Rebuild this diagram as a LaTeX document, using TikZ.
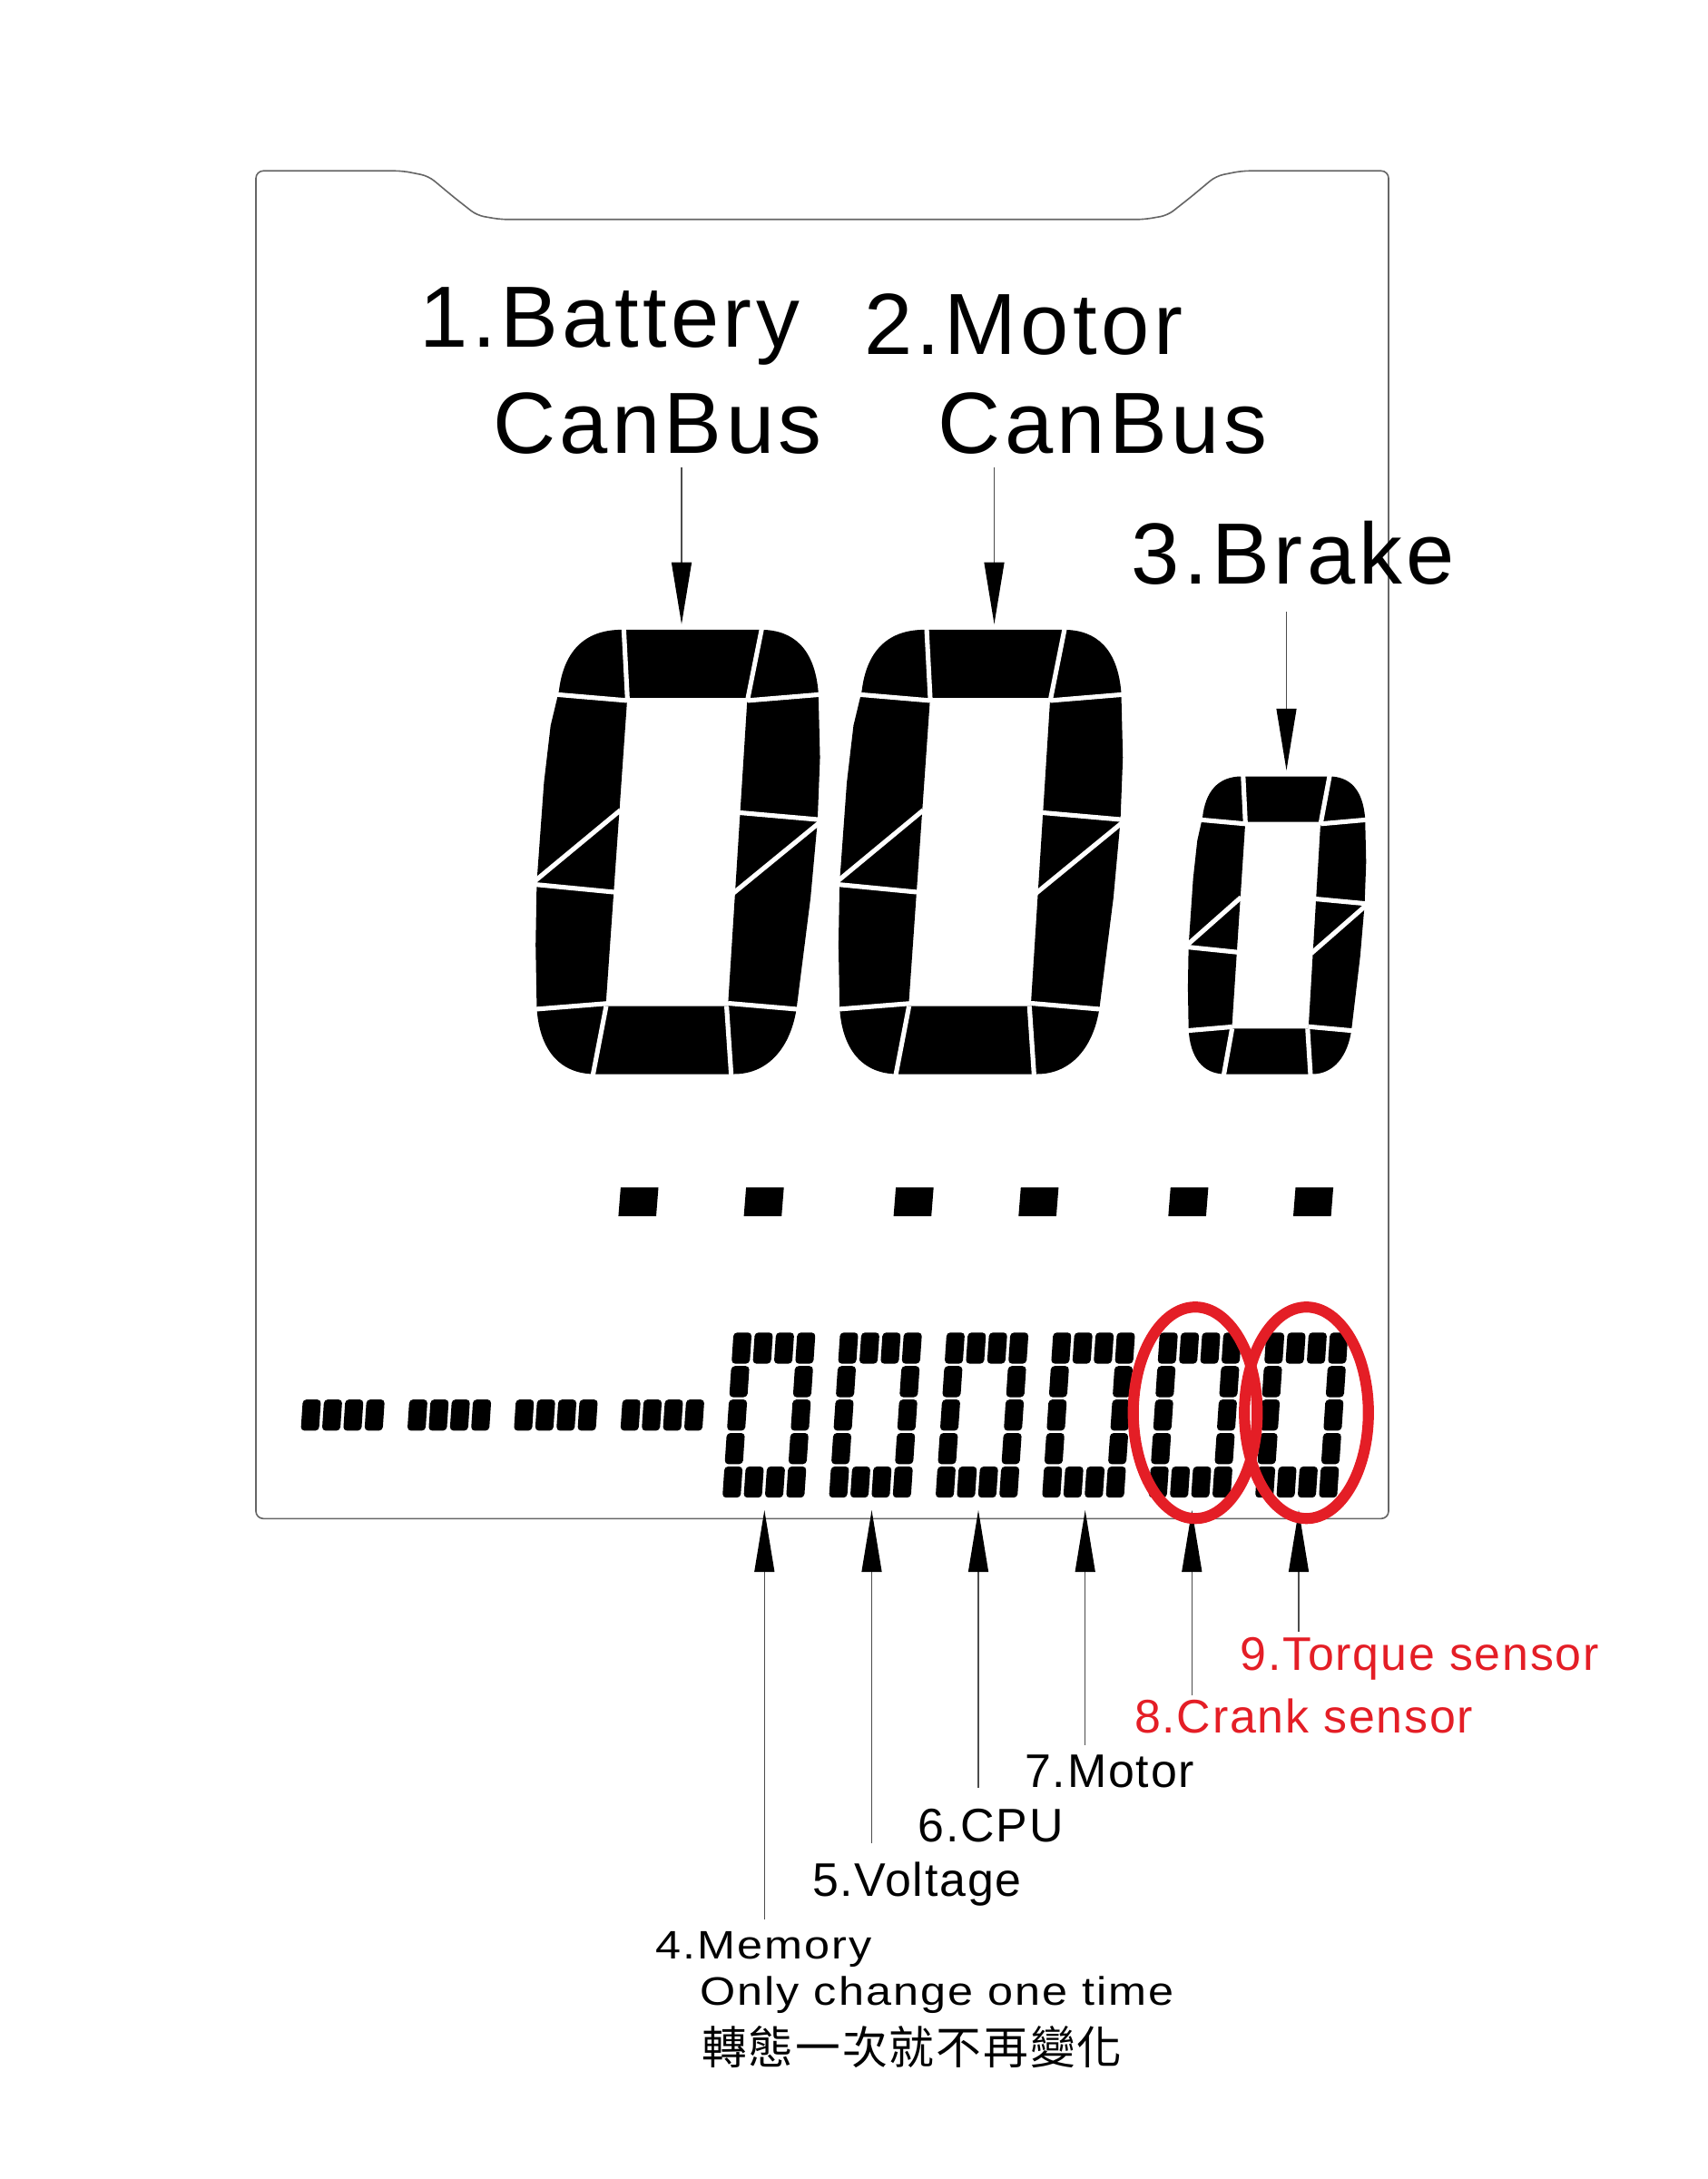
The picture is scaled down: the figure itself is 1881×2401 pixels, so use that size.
\documentclass[tikz,border=0pt]{standalone}
\usepackage{fontspec}
\setmainfont{Liberation Sans}
\newfontfamily\bigfam[LetterSpace=4.6]{Liberation Sans}
\newfontfamily\labfam[LetterSpace=3.4]{Liberation Sans}
\newfontfamily\memfam[LetterSpace=4]{Liberation Sans}
\newfontfamily\cjkfam[LetterSpace=4]{Noto Sans CJK TC}
\usetikzlibrary{arrows.meta}
\definecolor{lcdred}{RGB}{228,30,38}

\newcommand\segdigit{%
  \fill[even odd rule] (42.8,0) -- (142.8,0) .. controls (168,0) and (184,-20) .. (188,-48)
    -- (198,-127) -- (203,-182) -- (204.8,-228) -- (203.6,-275)
    .. controls (201,-306) and (186,-320) .. (162,-320) -- (62,-320)
    .. controls (34,-320) and (20,-303) .. (16.8,-276)
    -- (10.8,-251) -- (6,-210) -- (0.8,-138) -- (0,-93) -- (0.8,-48)
    .. controls (2.5,-18) and (17,0) .. (42.8,0) -- cycle
    (66,-271) -- (152.5,-271) -- (138.5,-49) -- (50.5,-49) -- cycle;
  \foreach \ax/\ay/\bx/\by in {63.3/-324/66.2/-268, 163.5/-324/152.3/-268,
      12/-273.6/66/-269, 208/-273.6/152.5/-269, 61/-190/-3/-137,
      -3/-136.8/57/-131, 146.5/-188.3/208/-182.9, 207.2/-183.4/142/-130,
      51/-50.8/-3/-46.5, 50.8/-49/40.8/3, 137.5/-49/141/3, 138.5/-51/191/-46.5}
    \draw[cut] (\ax,\ay) -- (\bx,\by);
}
\newcommand\lcdbar[2]{\fill[rounded corners=1.5pt] ({#1},{#2}) -- ++(20,0) -- ++(2.3,-34.3) -- ++(-20,0) -- cycle;}

\begin{document}
\begin{tikzpicture}[x=0.013cm, y=-0.013cm,
    frame/.style={draw=black!60, line width=0.6pt, rounded corners=3pt},
    cut/.style={draw=white, line width=1.9pt},
    arr/.style={draw=black!70, line width=0.45pt, -{Triangle[length=0.884cm, width=0.286cm, color=black]}},
    biglab/.style={anchor=base west, inner sep=0pt, font=\bigfam\fontsize{35.4}{42}\selectfont},
    lab/.style={anchor=base west, inner sep=0pt, font=\labfam\fontsize{19.2}{23}\selectfont},
    memlab/.style={anchor=base west, inner sep=0pt, xscale=1.15, font=\memfam\fontsize{16.2}{19}\selectfont},
    ring/.style={draw=lcdred, line width=4.5pt}]
    \useasboundingbox (0,0) rectangle (1881,2401);
    \draw[frame] (282,1673.3) -- (282,188.3) -- (443.7,188.3) -- (472.1,194) -- (499.7,217) -- (525.5,237.3)
        -- (551.4,241.8) -- (1260.6,241.8) -- (1286.5,237.3) -- (1312.3,217) -- (1339.9,194)
        -- (1368.3,188.3) -- (1530,188.3) -- (1530,1673.3) -- cycle;

    \begin{scope}[shift={(590.2,1183.5)}, scale=1.53] \segdigit \end{scope}
    \begin{scope}[shift={(923.9,1183.5)}, scale=1.53] \segdigit \end{scope}
    \begin{scope}[shift={(1308.9,1183.5)}, xscale=0.959, yscale=1.025] \segdigit \end{scope}

    \foreach \x in {681.4,819.6,984.6,1122.3,1287.3,1425}
        \fill (\x,1340) -- ++(41.6,0) -- ++(2.5,-31.7) -- ++(-41.6,0) -- cycle;

    \foreach \k in {-4,...,-1}{
        \foreach \c in {0,...,3}{\lcdbar{806+117.4*(\k)+23.4*\c-5}{1576.4}}
    }
    \foreach \k in {0,...,5}{
        \foreach \r in {0,4}{
            \foreach \c in {0,...,3}{\lcdbar{806+117.4*\k+23.4*\c-2.5*\r}{1502.6+36.9*\r}}
        }
        \foreach \r in {1,2,3}{
            \foreach \c in {0,3}{\lcdbar{806+117.4*\k+23.4*\c-2.5*\r}{1502.6+36.9*\r}}
        }
    }

    \node[biglab] (bat) at (462.2,382.7) {1.Battery};
    \node[biglab] (batbus) at (542.6,500) {CanBus};
    \node[biglab] (mot) at (951.5,391) {2.Motor};
    \node[biglab] (motbus) at (1033.1,500) {CanBus};
    \node[biglab] (brk) at (1246.4,643.7) {3.Brake};

    \node[lab, text=lcdred] (torq) at (1366,1840.7) {9.Torque sensor};
    \node[lab, text=lcdred] (crank) at (1249.5,1909.3) {8.Crank sensor};
    \node[lab] (motr) at (1128.8,1969.3) {7.Motor};
    \node[lab] (cpu) at (1011.3,2029.3) {6.CPU};
    \node[lab] (volt) at (894.5,2089.3) {5.Voltage};
    \node[memlab] (mem) at (722.2,2158.3) {4.Memory};
    \node[memlab] (memnote) at (770.7,2209) {Only change one time};
    \node[anchor=west, inner sep=0pt, font=\cjkfam\fontsize{18.4}{22}\selectfont] (memzh) at (772.5,2255.8) {轉態一次就不再變化};

    \coordinate (batTail) at (751,515);
    \coordinate (batTip) at (751,687.7);
    \coordinate (motTail) at (1095.5,515);
    \coordinate (motTip) at (1095.5,687.7);
    \coordinate (brkTail) at (1417.5,674);
    \coordinate (brkTip) at (1417.5,848.8);
    \draw[arr] (batTail) -- (batTip);
    \draw[arr] (motTail) -- (motTip);
    \draw[arr] (brkTail) -- (brkTip);

    \coordinate (memTail) at (842.3,2115);
    \coordinate (memTip) at (842.3,1664);
    \coordinate (voltTail) at (960.5,2031);
    \coordinate (voltTip) at (960.5,1664);
    \coordinate (cpuTail) at (1078,1970);
    \coordinate (cpuTip) at (1078,1664);
    \coordinate (motrTail) at (1195.7,1922.7);
    \coordinate (motrTip) at (1195.7,1664);
    \coordinate (crankTail) at (1313.3,1868.3);
    \coordinate (crankTip) at (1313.3,1664);
    \coordinate (torqTail) at (1431,1798.3);
    \coordinate (torqTip) at (1431,1664);
    \foreach \p in {mem,volt,cpu,motr,crank,torq}{\draw[arr] (\p Tail) -- (\p Tip);}

    \draw[ring] (1317,1556.7) ellipse [x radius=68.3, y radius=116.5];
    \draw[ring] (1439.5,1556.7) ellipse [x radius=68.3, y radius=116.5];
\end{tikzpicture}
\end{document}
